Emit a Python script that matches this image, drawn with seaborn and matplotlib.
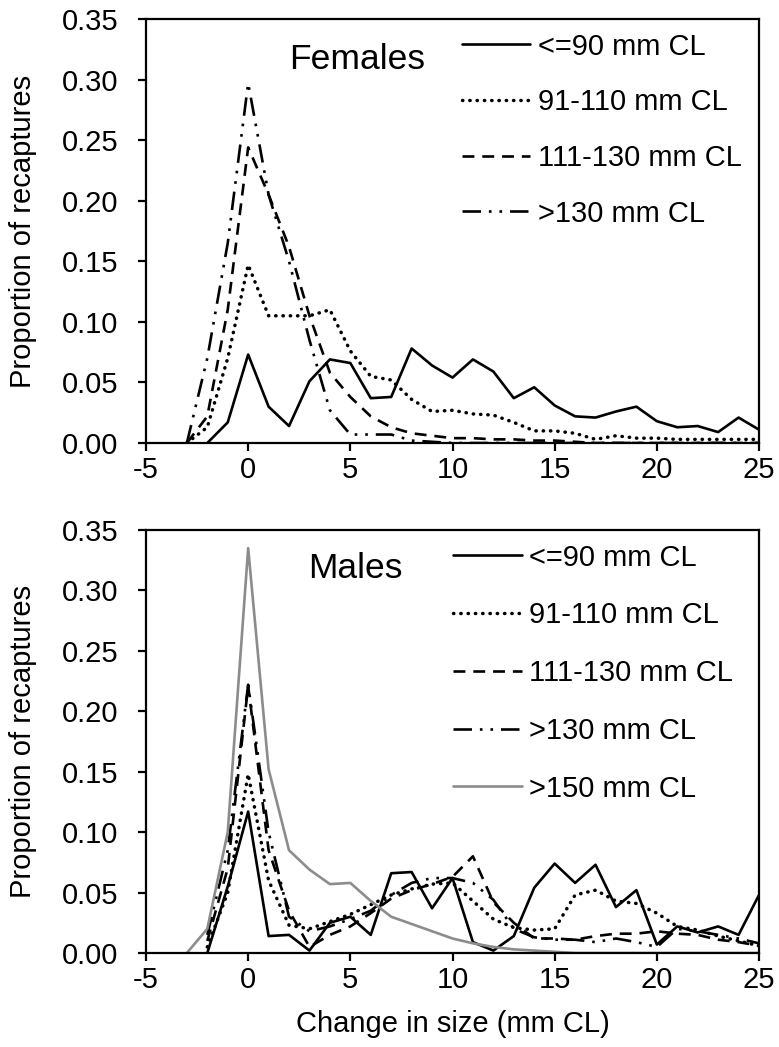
import numpy as np
import pandas as pd
import matplotlib
matplotlib.use("Agg")
import matplotlib.pyplot as plt
import seaborn as sns

sns.set_theme(style="white")
plt.rcParams['font.family'] = ['Liberation Sans', 'DejaVu Sans']

# Change in size (mm CL)
change = list(range(-3, 26))

labels_f = ["<=90 mm CL", "91-110 mm CL", "111-130 mm CL", ">130 mm CL"]
labels_m = ["<=90 mm CL", "91-110 mm CL", "111-130 mm CL", ">130 mm CL", ">150 mm CL"]

# Females
f_le90 = [None, 0.0, 0.017, 0.073, 0.030, 0.014, 0.051, 0.069, 0.066, 0.037, 0.038, 0.078, 0.064,
          0.054, 0.069, 0.059, 0.037, 0.046, 0.031, 0.022, 0.021, 0.026, 0.030, 0.018, 0.013,
          0.014, 0.009, 0.021, 0.011]
f_91_110 = [0.0, 0.013, 0.070, 0.147, 0.105, 0.105, 0.105, 0.110, 0.076, 0.055, 0.052, 0.036, 0.026,
            0.027, 0.024, 0.023, 0.017, 0.010, 0.010, 0.008, 0.003, 0.006, 0.004, 0.004, 0.003,
            0.003, 0.003, 0.003, 0.003]
f_111_130 = [0.0, 0.022, 0.110, 0.244, 0.205, 0.162, 0.105, 0.058, 0.038, 0.022, 0.013, 0.008, 0.006,
             0.004, 0.004, 0.003, 0.003, 0.002, 0.002, 0.001, 0.0, 0.0, 0.0, 0.0, 0.0,
             0.0, 0.0, 0.0, 0.0]
f_gt130 = [0.0, 0.070, 0.165, 0.297, 0.205, 0.150, 0.085, 0.027, 0.007, 0.007, 0.007, 0.002, 0.001,
           0.0, 0.0, 0.0, 0.0, 0.0, 0.0, 0.0, 0.0, 0.0, 0.0, 0.0, 0.0,
           0.0, 0.0, 0.0, 0.0]

# Males
m_le90 = [None, 0.0, 0.055, 0.117, 0.014, 0.015, 0.002, 0.025, 0.030, 0.015, 0.066, 0.067, 0.037,
          0.062, 0.009, 0.002, 0.014, 0.054, 0.074, 0.058, 0.073, 0.038, 0.052, 0.007, 0.022,
          0.017, 0.022, 0.015, 0.048]
m_91_110 = [None, 0.005, 0.050, 0.148, 0.060, 0.023, 0.020, 0.026, 0.032, 0.040, 0.048, 0.053, 0.057,
            0.058, 0.043, 0.028, 0.021, 0.019, 0.020, 0.048, 0.052, 0.043, 0.041, 0.033, 0.022,
            0.019, 0.014, 0.010, 0.006]
m_111_130 = [None, 0.010, 0.070, 0.221, 0.085, 0.035, 0.005, 0.015, 0.022, 0.033, 0.045, 0.052, 0.057,
             0.063, 0.080, 0.042, 0.025, 0.012, 0.012, 0.011, 0.014, 0.016, 0.016, 0.018, 0.016,
             0.015, 0.011, 0.009, 0.006]
m_gt130 = [None, 0.015, 0.085, 0.222, 0.100, 0.030, 0.018, 0.022, 0.028, 0.035, 0.048, 0.058, 0.062,
           0.062, 0.058, 0.044, 0.020, 0.013, 0.011, 0.011, 0.009, 0.012, 0.009, 0.005, 0.020,
           0.018, 0.015, 0.012, 0.008]
m_gt150 = [0.0, 0.020, 0.100, 0.335, 0.152, 0.085, 0.069, 0.057, 0.058, 0.043, 0.030, 0.024, 0.018,
           0.012, 0.008, 0.005, 0.003, 0.002, 0.001, 0.0, 0.0, 0.0, 0.0, 0.0, 0.0,
           0.0, 0.0, 0.0, 0.0]

x_ticks = [-5, 0, 5, 10, 15, 20, 25]
y_ticks = [0.00, 0.05, 0.10, 0.15, 0.20, 0.25, 0.30, 0.35]

styles_f = [
    dict(color="black", linestyle="-", linewidth=1.9),
    dict(color="black", linestyle=(0, (0.1, 2.0)), dash_capstyle="round", linewidth=2.5),
    dict(color="black", linestyle=(0, (4.5, 3.0)), linewidth=1.9),
    dict(color="black", linestyle=(0, (7, 3, 1, 3, 1, 3)), linewidth=1.9),
]
styles_m = styles_f + [dict(color="#8c8c8c", linestyle="-", linewidth=1.9)]

fig = plt.figure(figsize=(7.79, 10.47), dpi=100)
ax1 = fig.add_axes([146/779, 1-443/1047, 613/779, 424/1047])
ax2 = fig.add_axes([146/779, 1-953/1047, 613/779, 423/1047])

FS = 21


def draw(ax, series, labels, styles, title, title_xy, leg_xy, spacing):
    for vals, lab, st in zip(series, labels, styles):
        df = pd.DataFrame({"x": change, "y": vals}).dropna()
        sns.lineplot(data=df, x="x", y="y", ax=ax, label=lab, **st)
    ax.set_xlim(-5, 25)
    ax.set_ylim(0, 0.35)
    ax.set_xticks(x_ticks)
    ax.set_xticklabels([str(t) for t in x_ticks])
    ax.set_yticks(y_ticks)
    ax.set_yticklabels([f"{t:.2f}" for t in y_ticks])
    ax.tick_params(axis="both", direction="out", length=6, width=1.6,
                   labelsize=FS, colors="black", bottom=True, left=True)
    ax.tick_params(axis="x", pad=3)
    ax.tick_params(axis="y", pad=14)
    for s in ax.spines.values():
        s.set_visible(True)
        s.set_color("black")
        s.set_linewidth(1.6)
    ax.set_ylabel("Proportion of recaptures", fontsize=FS, color="black", labelpad=18)
    ax.set_xlabel("")
    ax.text(title_xy[0], title_xy[1], title, transform=ax.transAxes,
            fontsize=25.5, ha="center", va="center", color="black")
    leg = ax.legend(loc="upper left", bbox_to_anchor=leg_xy,
                    frameon=False, fontsize=FS, handlelength=2.35,
                    handletextpad=0.25, labelspacing=spacing, borderaxespad=0,
                    borderpad=0)
    for t in leg.get_texts():
        t.set_color("black")


draw(ax1, [f_le90, f_91_110, f_111_130, f_gt130], labels_f, styles_f,
     "Females", (0.344, 0.905), (0.515, 0.968), 0.95)
draw(ax2, [m_le90, m_91_110, m_111_130, m_gt130, m_gt150], labels_m, styles_m,
     "Males", (0.341, 0.908), (0.501, 0.968), 1.02)
ax2.set_xlabel("Change in size (mm CL)", fontsize=FS, color="black", labelpad=12)

fig.savefig("out.png", dpi=100, facecolor="white")
